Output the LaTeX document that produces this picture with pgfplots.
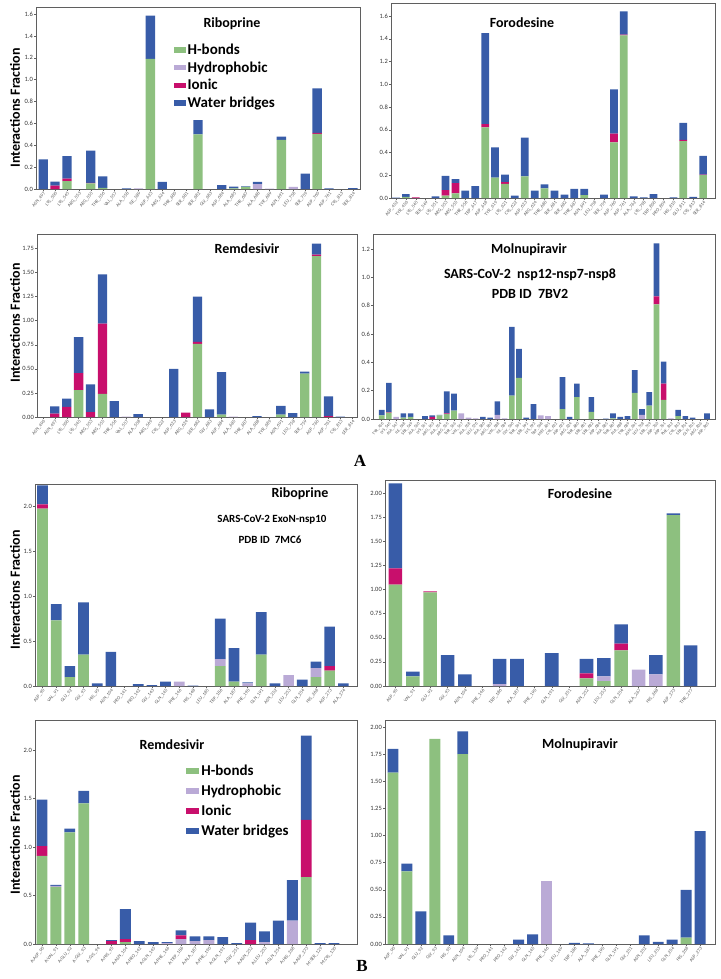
\documentclass[border=0pt]{standalone}
\usepackage{fontspec}
\setmainfont{Carlito}
\newfontfamily\serifb{Liberation Serif}
\usepackage{pgfplots}
\usepackage{pgfplotstable}
\pgfplotsset{compat=1.18}

\definecolor{cHB}{RGB}{141,192,127}
\definecolor{cHY}{RGB}{186,170,214}
\definecolor{cIO}{RGB}{200,15,108}
\definecolor{cWB}{RGB}{56,92,168}
\definecolor{frm}{RGB}{95,95,95}

% segment heights: H-bonds, Hydrophobic, Ionic, Water bridges
\pgfplotstableread{
x hb hy io wb
0 0 0 0 0.27
1 0 0 0.03 0.037
2 0.073 0 0.022 0.205
3 0 0 0 0
4 0.052 0 0.005 0.293
5 0.01 0 0 0.106
6 0 0 0 0
7 0 0 0 0.005
8 0 0.006 0 0
9 1.19 0 0 0.395
10 0 0 0 0.065
11 0 0 0 0
12 0 0 0 0
13 0.50 0 0 0.13
14 0 0 0 0
15 0 0 0 0.035
16 0.005 0 0 0.017
17 0.02 0 0 0.005
18 0 0.045 0 0.02
19 0 0.003 0 0
20 0.45 0 0 0.03
21 0 0.02 0 0
22 0 0 0 0.14
23 0.505 0 0.008 0.407
24 0 0 0 0.005
25 0 0 0 0
26 0 0 0 0.008
}\tRibA

\pgfplotstableread{
x hb hy io wb
0 0 0 0 0.003
1 0.01 0 0 0.025
2 0 0 0.005 0
3 0 0 0 0
4 0 0 0 0.015
5 0.02 0 0.05 0.125
6 0.04 0 0.09 0.035
7 0 0 0 0.065
8 0 0 0 0.105
9 0.62 0 0.03 0.80
10 0.18 0 0 0.265
11 0.125 0 0.015 0.065
12 0 0 0 0.02
13 0.19 0 0 0.34
14 0 0 0 0.065
15 0.085 0 0 0.035
16 0 0 0 0.065
17 0 0 0 0.03
18 0 0 0 0.08
19 0.025 0 0 0.055
20 0 0 0 0
21 0 0 0 0.03
22 0.49 0 0.075 0.39
23 1.43 0 0.005 0.205
24 0 0 0 0.015
25 0 0 0 0.005
26 0 0 0 0.035
27 0 0 0 0
28 0 0 0 0.005
29 0.50 0 0.01 0.15
30 0 0 0 0.01
31 0.20 0 0.005 0.165
}\tForA

\pgfplotstableread{
x hb hy io wb
0 0 0 0 0
1 0 0 0.035 0.075
2 0 0 0.105 0.085
3 0.28 0 0.175 0.375
4 0 0 0.05 0.29
5 0.24 0 0.73 0.51
6 0 0 0 0.165
7 0 0.005 0 0
8 0 0 0 0.03
9 0 0 0 0
10 0 0 0 0
11 0 0 0 0.50
12 0 0 0.045 0
13 0.76 0 0.02 0.47
14 0 0 0 0.08
15 0.025 0 0 0.44
16 0 0.003 0 0
17 0 0 0 0
18 0 0 0 0.01
19 0 0 0 0
20 0.025 0 0 0.09
21 0 0 0 0.04
22 0.45 0 0 0.02
23 1.67 0 0.015 0.115
24 0 0 0.01 0.205
25 0 0 0 0.005
26 0 0 0 0
}\tRemA

\pgfplotstableread{
x hb hy io wb
0 0.025 0 0 0.04
1 0.045 0 0.003 0.207
2 0 0.015 0 0
3 0.01 0 0 0.03
4 0.015 0 0 0.025
5 0 0 0 0
6 0 0 0 0.02
7 0 0 0.015 0.01
8 0.025 0 0 0.005
9 0.035 0 0.005 0.155
10 0.06 0 0 0.12
11 0 0.04 0 0
12 0 0.01 0 0
13 0 0.005 0 0
14 0 0 0 0.015
15 0 0 0 0.01
16 0 0.03 0 0.095
17 0 0.005 0 0
18 0.165 0 0 0.485
19 0.29 0 0 0.205
20 0 0 0 0.01
21 0 0 0 0.105
22 0 0.025 0 0
23 0 0.02 0 0
24 0 0 0 0
25 0.07 0 0 0.225
26 0 0 0 0.015
27 0.155 0 0 0.095
28 0 0 0 0
29 0.05 0 0 0.105
30 0 0 0 0
31 0 0 0 0.003
32 0.005 0 0 0.035
33 0 0 0 0.015
34 0 0 0 0.02
35 0.185 0 0 0.16
36 0 0.03 0 0.04
37 0.095 0 0 0.095
38 0.81 0 0.055 0.375
39 0.135 0 0.115 0.155
40 0 0.005 0 0
41 0.02 0 0 0.045
42 0 0 0 0.02
43 0 0 0 0.01
44 0 0 0 0
45 0 0 0 0.04
}\tMolA

\pgfplotstableread{
x hb hy io wb
0 1.97 0 0.05 0.21
1 0.73 0 0 0.18
2 0.10 0 0 0.12
3 0.35 0 0 0.58
4 0 0 0 0.03
5 0 0 0 0.38
6 0 0 0 0
7 0 0 0 0.02
8 0 0 0 0.01
9 0 0 0 0.05
10 0 0.05 0 0
11 0 0 0 0.005
12 0 0 0 0
13 0.22 0.08 0 0.45
14 0.05 0 0 0.37
15 0 0.03 0 0.01
16 0.35 0 0 0.47
17 0 0 0 0.03
18 0 0.12 0 0
19 0 0 0 0.07
20 0.10 0.10 0 0.07
21 0.17 0 0.05 0.44
22 0 0 0 0.03
}\tRibB

\pgfplotstableread{
x hb hy io wb
0 1.05 0 0.17 0.88
1 0.10 0 0 0.05
2 0.97 0 0.01 0
3 0 0 0 0.32
4 0 0 0 0.12
5 0 0 0 0
6 0 0.02 0 0.26
7 0 0 0 0.28
8 0 0 0 0
9 0 0 0 0.34
10 0 0 0 0
11 0.08 0 0.05 0.15
12 0.05 0.05 0 0.19
13 0.37 0 0.07 0.20
14 0 0.17 0 0
15 0 0.12 0 0.20
16 1.77 0 0 0.02
17 0 0 0 0.42
}\tForB

\pgfplotstableread{
x hb hy io wb
0 0.91 0 0.10 0.48
1 0.59 0.01 0 0.01
2 1.15 0 0 0.04
3 1.45 0 0 0.13
4 0 0 0 0
5 0 0 0.03 0.01
6 0.02 0 0.03 0.31
7 0 0 0 0.03
8 0 0 0 0.02
9 0 0.01 0 0.01
10 0 0.05 0.04 0.05
11 0 0.03 0 0.05
12 0 0.04 0 0.04
13 0 0 0 0.07
14 0 0 0 0.01
15 0 0 0.04 0.18
16 0 0.02 0 0.11
17 0 0 0 0.24
18 0 0.24 0 0.42
19 0.69 0 0.59 0.87
20 0 0 0 0.01
21 0 0 0 0.01
}\tRemB

\pgfplotstableread{
x hb hy io wb
0 1.58 0 0 0.22
1 0.67 0 0 0.07
2 0 0 0 0.30
3 1.89 0 0 0
4 0 0 0 0.08
5 1.75 0 0 0.21
6 0 0 0 0
7 0 0 0 0
8 0 0 0 0
9 0 0 0 0.04
10 0 0 0 0.09
11 0 0.58 0 0
12 0 0 0 0
13 0 0 0 0.01
14 0 0 0 0.005
15 0 0 0 0
16 0 0 0 0
17 0 0 0 0
18 0 0 0 0.08
19 0 0 0 0.02
20 0 0 0 0.04
21 0.06 0 0 0.44
22 0 0 0 1.04
}\tMolB

\pgfplotsset{
  panel/.style={scale only axis, ybar stacked, bar width=0.78, ymin=0,
    axis line style={frm, line width=0.6pt},
    tick style={frm, line width=0.4pt}, major tick length=2pt,
    tick align=outside, xtick pos=bottom, ytick pos=left,
    /pgf/number format/assume math mode=true,
    yticklabel style={font=\fontsize{6.5}{7}\selectfont, text=black!80, inner sep=1pt},
    xticklabel style={font=\fontsize{4.8}{5}\selectfont, rotate=50,
      anchor=north east, inner sep=0.5pt, text=black!65},
    every axis plot/.append style={draw=none}},
  one/.style={yticklabel style={/pgf/number format/fixed,
      /pgf/number format/fixed zerofill, /pgf/number format/precision=1}},
  two/.style={yticklabel style={/pgf/number format/fixed,
      /pgf/number format/fixed zerofill, /pgf/number format/precision=2}},
  leg/.style={legend cell align=left, legend style={draw=none, fill=none,
      font=\bfseries\fontsize{15}{16}\selectfont, row sep=#1}}
}

\newcommand{\stack}[1]{%
  \addplot[fill=cHB] table[x=x,y=hb]{#1};
  \addplot[fill=cHY] table[x=x,y=hy]{#1};
  \addplot[fill=cIO] table[x=x,y=io]{#1};
  \addplot[fill=cWB] table[x=x,y=wb]{#1};
}

\begin{document}
\begin{tikzpicture}
\path[use as bounding box] (0,0) rectangle (720pt,-979pt);

% ---------- A: Riboprine
\begin{axis}[panel, one, at={(36pt,-189pt)}, width=324pt, height=182pt,
  xmin=-0.6, xmax=26.6, ymax=1.665,
  ytick={0,0.2,0.4,0.6,0.8,1.0,1.2,1.4,1.6}, xtick={0,...,26},
  xticklabels={ASN\_497,LYS\_500,LYS\_545,ARG\_553,ARG\_555,THR\_556,VAL\_557,
    ALA\_558,ILE\_589,ASP\_623,ARG\_624,THR\_680,SER\_681,SER\_682,GLY\_683,
    ASP\_684,ALA\_685,THR\_687,ALA\_688,TYR\_689,ASN\_691,LEU\_758,SER\_759,
    ASP\_760,ASP\_761,CYS\_813,SER\_814},
  leg=1.5pt, legend style={at={(0.415,0.82)}, anchor=north west},
  legend image code/.code={\fill[#1] (0pt,-0.3em) rectangle (1.2em,0.25em);}]
\stack{\tRibA}
\legend{H-bonds,Hydrophobic,Ionic,Water bridges}
\end{axis}

% ---------- A: Forodesine
\begin{axis}[panel, one, at={(391pt,-198pt)}, width=324pt, height=195pt,
  xmin=-0.5, xmax=32.2, ymax=1.714,
  ytick={0,0.2,0.4,0.6,0.8,1.0,1.2,1.4,1.6}, xtick={0,...,31},
  xticklabels={ASP\_452,TYR\_456,LYS\_545,SER\_549,LYS\_551,ARG\_553,ARG\_555,
    THR\_556,TRP\_617,ASP\_618,TYR\_619,LYS\_621,CYS\_622,ASP\_623,ARG\_624,
    THR\_680,SER\_681,SER\_682,THR\_687,ASN\_691,LEU\_758,SER\_759,ASP\_760,
    ASP\_761,ALA\_762,LYS\_798,TRP\_800,PRO\_809,HIS\_810,GLU\_811,CYS\_813,
    SER\_814}]
\stack{\tForA}
\end{axis}

% ---------- A: Remdesivir
\begin{axis}[panel, two, at={(37pt,-417pt)}, width=320pt, height=183pt,
  xmin=-0.5, xmax=26.4, ymax=1.90,
  ytick={0,0.25,0.5,0.75,1.0,1.25,1.5,1.75}, xtick={0,...,26},
  xticklabels={ASN\_496,ASN\_497,LYS\_500,LYS\_545,ARG\_553,ARG\_555,THR\_556,
    VAL\_557,ALA\_558,ARG\_569,CYS\_622,ASP\_623,ARG\_624,SER\_682,GLY\_683,
    ASP\_684,ALA\_685,THR\_687,ALA\_688,TYR\_689,ASN\_691,LEU\_758,SER\_759,
    ASP\_760,ASP\_761,CYS\_813,SER\_814}]
\stack{\tRemA}
\end{axis}

% ---------- A: Molnupiravir
\begin{axis}[panel, one, at={(373pt,-419pt)}, width=342pt, height=185pt,
  xmin=-1.2, xmax=46.1, ymax=1.306,
  ytick={0,0.2,0.4,0.6,0.8,1.0,1.2}, xtick={0,...,45},
  xticklabel style={font=\fontsize{4.3}{4.5}\selectfont},
  xticklabels={TYR\_456,LYS\_545,ALA\_547,ILE\_548,SER\_549,ALA\_550,LYS\_551,
    ARG\_553,ALA\_554,ARG\_555,THR\_556,VAL\_557,ALA\_558,LEU\_576,ALA\_580,
    ARG\_583,VAL\_588,ILE\_589,GLY\_590,THR\_591,SER\_592,LYS\_593,TRP\_598,
    MET\_601,CYS\_622,ASP\_623,ARG\_624,THR\_680,SER\_681,SER\_682,ASP\_684,
    ALA\_685,THR\_687,ALA\_688,TYR\_689,ASN\_691,LEU\_758,SER\_759,ASP\_760,
    ASP\_761,PHE\_812,CYS\_813,SER\_814,GLN\_815,ARG\_836,ASP\_865}]
\stack{\tMolA}
\end{axis}

% ---------- B: Riboprine
\begin{axis}[panel, one, at={(35pt,-686pt)}, width=322pt, height=202pt,
  xmin=-0.55, xmax=23.0, ymax=2.245,
  ytick={0,0.5,1.0,1.5,2.0}, xtick={0,...,22},
  xticklabels={ASP\_90,VAL\_91,GLU\_92,GLY\_93,HIS\_95,ASN\_104,PRO\_141,
    PRO\_142,GLY\_143,GLN\_145,PHE\_146,HIS\_148,LEU\_185,TRP\_186,ALA\_187,
    PHE\_190,GLN\_191,ASN\_252,LEU\_253,GLN\_254,HIS\_268,ASP\_273,ALA\_274}]
\stack{\tRibB}
\end{axis}

% ---------- B: Forodesine
\begin{axis}[panel, two, at={(385pt,-686pt)}, width=330pt, height=206pt,
  xmin=-0.6, xmax=18.4, ymax=2.135,
  ytick={0,0.25,0.5,0.75,1.0,1.25,1.5,1.75,2.0}, xtick={0,...,17},
  xticklabels={ASP\_90,VAL\_91,GLU\_92,GLY\_93,ASN\_104,PHE\_146,TRP\_186,
    ALA\_187,PHE\_190,GLN\_191,GLY\_251,ASN\_252,LEU\_253,GLN\_254,ALA\_267,
    HIS\_268,ASP\_273,THR\_277}]
\stack{\tForB}
\end{axis}

% ---------- B: Remdesivir
\begin{axis}[panel, one, at={(35pt,-944pt)}, width=322pt, height=224pt,
  xmin=-0.5, xmax=22.65, ymax=2.31,
  ytick={0,0.5,1.0,1.5,2.0}, xtick={0,...,21},
  xticklabels={A:ASP\_90,A:VAL\_91,A:GLU\_92,A:GLY\_93,A:CYS\_94,A:HIS\_95,
    A:ASN\_104,A:PRO\_142,A:GLN\_145,A:PHE\_146,A:TRP\_186,A:ALA\_187,
    A:PHE\_190,A:GLN\_191,A:GLY\_251,A:ASN\_252,A:LEU\_253,A:GLN\_254,
    A:HIS\_268,A:ASP\_273,M:SER\_129,M:CYS\_130},
  leg=4pt, legend style={at={(0.46,0.82)}, anchor=north west},
  legend image code/.code={\fill[#1] (0pt,-0.3em) rectangle (1.3em,0.3em);}]
\stack{\tRemB}
\legend{H-bonds,Hydrophobic,Ionic,Water bridges}
\end{axis}

% ---------- B: Molnupiravir
\begin{axis}[panel, two, at={(385pt,-944pt)}, width=330pt, height=224pt,
  xmin=-0.57, xmax=23.07, ymax=2.065,
  ytick={0,0.25,0.5,0.75,1.0,1.25,1.5,1.75,2.0}, xtick={0,...,22},
  xticklabels={ASP\_90,VAL\_91,GLU\_92,GLY\_93,HIS\_95,ASN\_104,LYS\_139,
    PRO\_141,PRO\_142,GLY\_143,GLN\_145,PHE\_146,LEU\_149,TRP\_186,ALA\_187,
    PHE\_190,GLN\_191,GLY\_251,ASN\_252,LEU\_253,GLN\_254,HIS\_268,ASP\_273}]
\stack{\tMolB}
\end{axis}

% titles and labels
\begin{scope}[every node/.style={font=\bfseries\fontsize{14}{15}\selectfont}]
\node at (232pt,-24pt) {Riboprine};
\node at (522pt,-23pt) {Forodesine};
\node at (247pt,-249pt) {Remdesivir};
\node at (529pt,-250pt) {Molnupiravir};
\node at (530pt,-275pt) {SARS-CoV-2\ \ nsp12-nsp7-nsp8};
\node at (530pt,-294pt) {PDB ID\ \ 7BV2};
\node at (300pt,-494pt) {Riboprine};
\node at (580pt,-494pt) {Forodesine};
\node at (172pt,-745pt) {Remdesivir};
\node at (580pt,-745pt) {Molnupiravir};
\end{scope}
\node[font=\bfseries\fontsize{11}{12}\selectfont] at (272pt,-520pt) {SARS-CoV-2 ExoN-nsp10};
\node[font=\bfseries\fontsize{11}{12}\selectfont] at (270pt,-540pt) {PDB ID\ \ 7MC6};

\begin{scope}[every node/.style={font=\bfseries\fontsize{14}{15}\selectfont, rotate=90}]
\node at (15pt,-108pt) {Interactions Fraction};
\node at (15pt,-323pt) {Interactions Fraction};
\node at (15pt,-590pt) {Interactions Fraction};
\node at (15pt,-835pt) {Interactions Fraction};
\end{scope}

\node[font=\serifb\bfseries\fontsize{17}{18}\selectfont] at (360pt,-461pt) {A};
\node[font=\serifb\bfseries\fontsize{17}{18}\selectfont] at (362pt,-966pt) {B};
\end{tikzpicture}
\end{document}
